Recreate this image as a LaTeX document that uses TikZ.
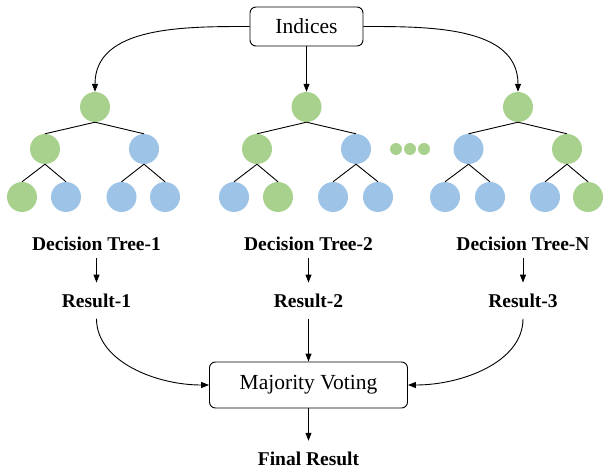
\documentclass[tikz,border=0pt]{standalone}
\usepackage{fontspec}
\setmainfont{Liberation Serif}
\usetikzlibrary{arrows.meta}
\definecolor{lgreen}{HTML}{A9D18E}
\definecolor{lblue}{HTML}{9DC3E6}
\begin{document}
\begin{tikzpicture}[x=1pt,y=-1pt,
  box/.style={draw, rounded corners=6pt, line width=0.9pt, inner sep=0pt,
    font=\fontsize{21.5}{25}\selectfont},
  lab/.style={inner sep=0pt, anchor=base, font=\fontsize{19.5}{23}\selectfont\bfseries},
  gn/.style={circle, fill=lgreen, minimum size=30pt, inner sep=0pt},
  bn/.style={circle, fill=lblue, minimum size=30pt, inner sep=0pt},
  dotn/.style={circle, fill=lgreen, minimum size=12pt, inner sep=0pt},
  edge/.style={line width=0.9pt},
  arr/.style={line width=0.9pt, -{Triangle[length=8pt,width=6pt]}}
]
\useasboundingbox (0,0) rectangle (604,470);

% top box
\node[box, minimum width=113pt, minimum height=39pt] (ind) at (306.5,26.5) {Indices};

% tree 1
\node[gn] (r1) at (95,107) {};
\node[gn] (a1) at (45,149) {};
\node[bn] (b1) at (144,149) {};
\node[gn] (a1l) at (22,197) {};
\node[bn] (a1r) at (66,197) {};
\node[bn] (b1l) at (121.5,197) {};
\node[bn] (b1r) at (165,197) {};
% tree 2
\node[gn] (r2) at (306.5,107) {};
\node[gn] (a2) at (257,149) {};
\node[bn] (b2) at (356,149) {};
\node[bn] (a2l) at (234,197) {};
\node[gn] (a2r) at (278,197) {};
\node[bn] (b2l) at (333,197) {};
\node[bn] (b2r) at (378,197) {};
% tree N
\node[gn] (r3) at (518,107) {};
\node[bn] (a3) at (468.5,149) {};
\node[gn] (b3) at (567,149) {};
\node[bn] (a3l) at (445,197) {};
\node[bn] (a3r) at (490,197) {};
\node[bn] (b3l) at (545,197) {};
\node[gn] (b3r) at (588,197) {};
% dots
\node[dotn] (d1) at (396,149) {};
\node[dotn] (d2) at (410,149) {};
\node[dotn] (d3) at (424,149) {};

% tree edges
\foreach \t in {1,2,3}{
  \draw[edge] (r\t.south) -- (a\t.north);
  \draw[edge] (r\t.south) -- (b\t.north);
  \draw[edge] (a\t.south) -- (a\t l.north);
  \draw[edge] (a\t.south) -- (a\t r.north);
  \draw[edge] (b\t.south) -- (b\t l.north);
  \draw[edge] (b\t.south) -- (b\t r.north);
}

% arrows from Indices
\draw[arr] (ind.west) to[out=180,in=90] (r1.north);
\draw[arr] (ind.south) -- (r2.north);
\draw[arr] (ind.east) to[out=0,in=90] (r3.north);

% labels
\node[lab] (dt1) at (96.5,250.7) {Decision Tree-1};
\node[lab] (dt2) at (308.5,250.7) {Decision Tree-2};
\node[lab] (dt3) at (523,250.7) {Decision Tree-N};
\node[lab] (rs1) at (96.5,307.3) {Result-1};
\node[lab] (rs2) at (308.5,307.3) {Result-2};
\node[lab] (rs3) at (523,307.3) {Result-3};

\draw[arr, shorten <=7pt, shorten >=11pt] (dt1.south) -- (rs1.north);
\draw[arr, shorten <=7pt, shorten >=11pt] (dt2.south) -- (rs2.north);
\draw[arr, shorten <=7pt, shorten >=11pt] (dt3.south) -- (rs3.north);

% majority voting
\node[box, minimum width=198pt, minimum height=46pt] (mv) at (308.5,385) {Majority Voting};

\draw[arr, shorten <=11pt] (rs1.south) to[out=-90,in=180] (mv.west);
\draw[arr, shorten <=11pt] (rs2.south) -- (mv.north);
\draw[arr, shorten <=11pt] (rs3.south) to[out=-90,in=0] (mv.east);

\node[lab] (fr) at (308.5,465) {Final Result};
\draw[arr, shorten >=10.5pt] (mv.south) -- (fr.north);
\end{tikzpicture}
\end{document}
